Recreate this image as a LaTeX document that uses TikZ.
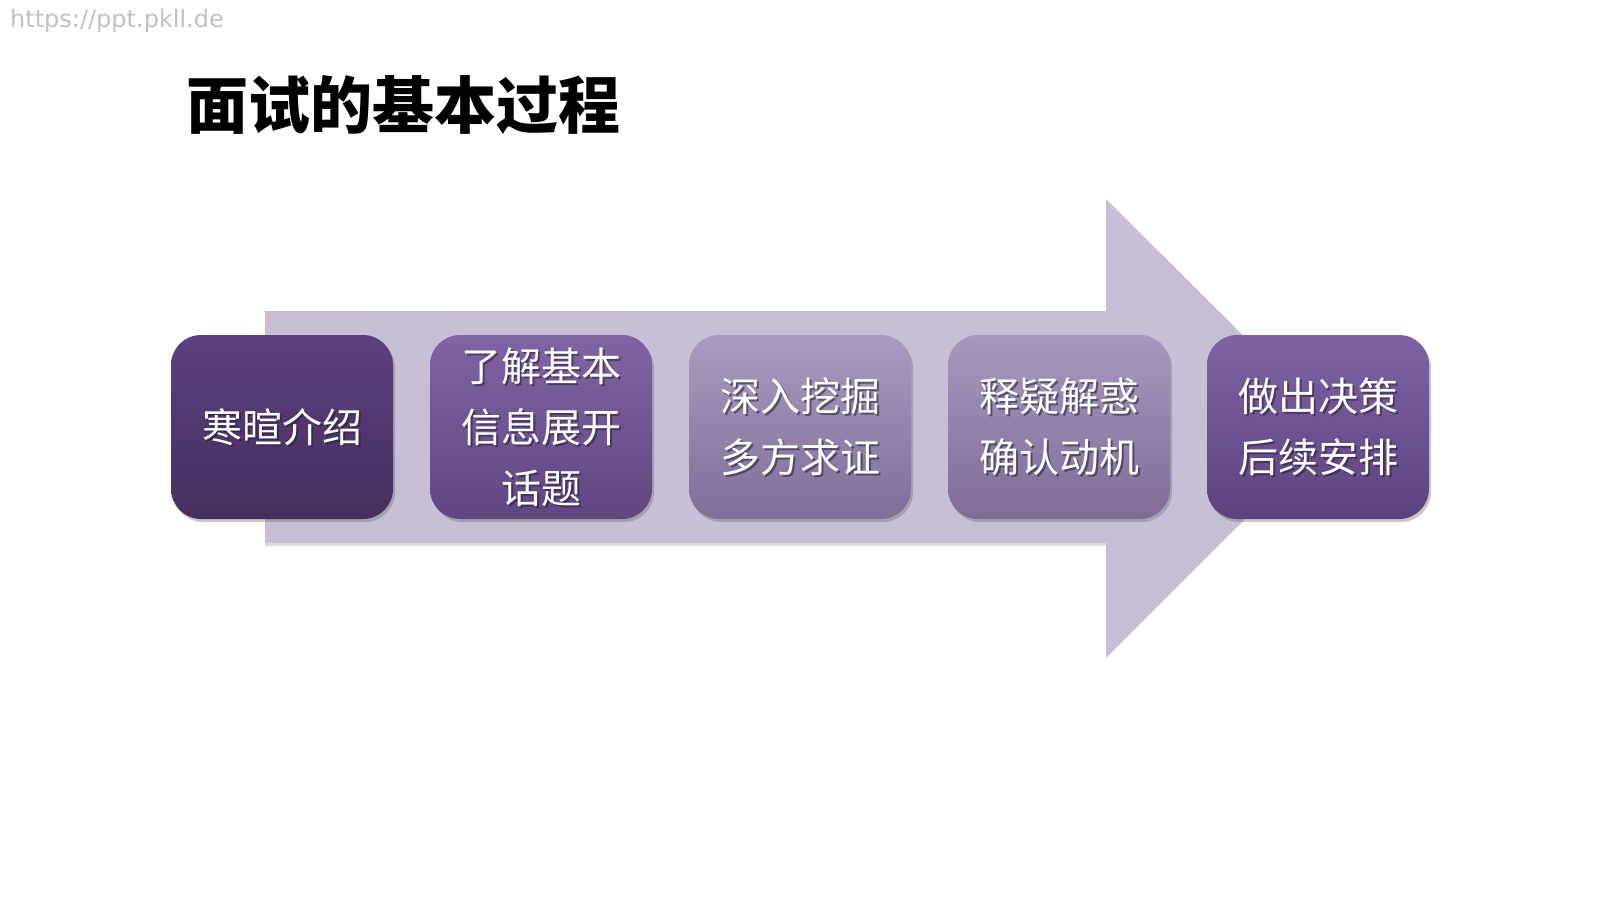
\documentclass[tikz,border=0pt]{standalone}
\usepackage{fontspec}
\newfontfamily\cjk{Noto Sans CJK SC}
\setsansfont{DejaVu Sans}
\usetikzlibrary{shadows}
\definecolor{arrowc}{HTML}{C8BFD7}
\definecolor{boneT}{HTML}{5B417E}\definecolor{boneB}{HTML}{452F5F}
\definecolor{btwoT}{HTML}{8064A4}\definecolor{btwoB}{HTML}{5F4680}
\definecolor{bthrT}{HTML}{AA9BC0}\definecolor{bthrB}{HTML}{7F6E98}
\definecolor{bfouT}{HTML}{A898BD}\definecolor{bfouB}{HTML}{7E6C97}
\definecolor{bfivT}{HTML}{7E63A4}\definecolor{bfivB}{HTML}{5C437F}
\definecolor{txtsh}{HTML}{2A1E38}
\tikzset{
  stepbox/.style={rounded corners=30pt, minimum width=222pt, minimum height=184pt, inner sep=0pt,
    drop shadow={shadow xshift=2pt, shadow yshift=-3pt, opacity=0.35, fill=black!60}},
  boxtext/.style={text=white, align=center, inner sep=0pt, font={\cjk\fontsize{40}{61}\selectfont}},
  boxshadow/.style={text=txtsh, opacity=0.55, align=center, inner sep=0pt, font={\cjk\fontsize{40}{61}\selectfont}},
}
\begin{document}
\begin{tikzpicture}[x=1pt,y=-1pt]
\useasboundingbox (0,0) rectangle (1600,900);
\fill[white] (0,0) rectangle (1600,900);
\node[anchor=west, inner sep=0pt, text=black!24, font={\sffamily\fontsize{24}{28}\selectfont}] (wm) at (10,21) {https://ppt.pkll.de};
\node[anchor=west, text=black, inner sep=0pt, font={\cjk\bfseries\fontsize{62}{70}\selectfont}] (title) at (186,105) {面试的基本过程};
% big arrow
\fill[black!25, opacity=0.5] (265,543) rectangle (1106,546);
\fill[arrowc] (265,311) -- (1106,311) -- (1106,199) -- (1336,428) -- (1106,658) -- (1106,543) -- (265,543) -- cycle;
% boxes
\node[stepbox, top color=boneT, bottom color=boneB] (b1) at (282,427) {};
\node[stepbox, top color=btwoT, bottom color=btwoB] (b2) at (541,427) {};
\node[stepbox, top color=bthrT, bottom color=bthrB] (b3) at (800,427) {};
\node[stepbox, top color=bfouT, bottom color=bfouB] (b4) at (1059,427) {};
\node[stepbox, top color=bfivT, bottom color=bfivB] (b5) at (1318,427) {};
% texts
\node[boxshadow] (s1) at ([xshift=2pt,yshift=-2pt]b1.center) {寒暄介绍};
\node[boxtext] (t1) at (b1.center) {寒暄介绍};
\node[boxshadow] (s2) at ([xshift=2pt,yshift=-2pt]b2.center) {了解基本\\信息展开\\话题};
\node[boxtext] (t2) at (b2.center) {了解基本\\信息展开\\话题};
\node[boxshadow] (s3) at ([xshift=2pt,yshift=-2pt]b3.center) {深入挖掘\\多方求证};
\node[boxtext] (t3) at (b3.center) {深入挖掘\\多方求证};
\node[boxshadow] (s4) at ([xshift=2pt,yshift=-2pt]b4.center) {释疑解惑\\确认动机};
\node[boxtext] (t4) at (b4.center) {释疑解惑\\确认动机};
\node[boxshadow] (s5) at ([xshift=2pt,yshift=-2pt]b5.center) {做出决策\\后续安排};
\node[boxtext] (t5) at (b5.center) {做出决策\\后续安排};
\end{tikzpicture}
\end{document}
